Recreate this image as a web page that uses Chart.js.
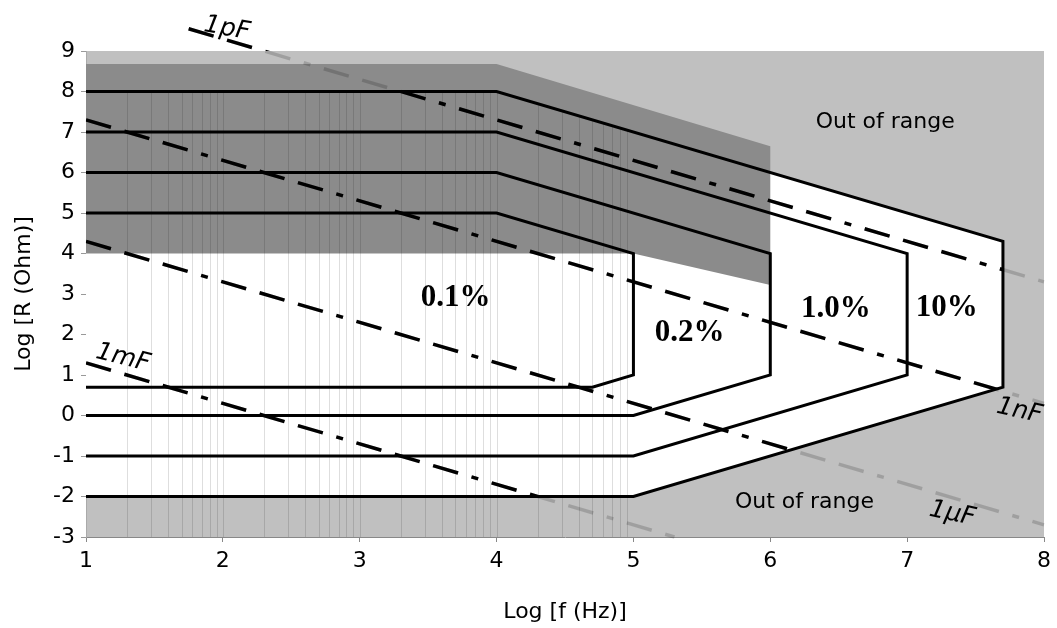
<!doctype html>
<html lang="en">
<head>
<meta charset="utf-8">
<title>Measurement range</title>
<script src="https://cdn.jsdelivr.net/npm/chart.js"></script>
<style>
  html, body { margin: 0; padding: 0; background: #fff; }
  #wrap { width: 1057px; height: 628px; }
</style>
</head>
<body>
<div id="wrap"><canvas id="chart" width="1057" height="628"></canvas></div>
<script>
// x = Log [f (Hz)], y = Log [R (Ohm)]
const xTicks = [1, 2, 3, 4, 5, 6, 7, 8];
const yTicks = [-3, -2, -1, 0, 1, 2, 3, 4, 5, 6, 7, 8, 9];

// accuracy contours (closed on the left by the axis)
const c01X = [1, 4, 5, 5, 4.7, 1];
const c01Y = [5, 5, 4, 1, 0.7, 0.7];
const c02X = [1, 4, 6, 6, 5, 1];
const c02Y = [6, 6, 4, 1, 0, 0];
const c1X = [1, 4, 7, 7, 5, 1];
const c1Y = [7, 7, 4, 1, -1, -1];
const c10X = [1, 4, 7.7, 7.7, 5, 1];
const c10Y = [8, 8, 4.3, 0.7, -2, -2];

// darker band
const darkX = [1, 4, 6, 6, 5, 1];
const darkY = [8.68, 8.68, 6.65, 3.22, 4, 4];

// constant capacitance lines
const capNames = ['1pF', '1nF', '1µF', '1mF'];
const capX = [[1.75, 8], [1, 8], [1, 8], [1, 5.3]];
const capY = [[9.55, 3.3], [7.3, 0.3], [4.3, -2.7], [1.3, -3]];

const pts = (xs, ys) => xs.map((x, i) => ({ x: x, y: ys[i] }));

const datasets = [];
datasets.push({ role: 'white', data: pts(c10X, c10Y), fill: 'shape', backgroundColor: '#ffffff', borderWidth: 0, order: 100 });
datasets.push({ role: 'dark', data: pts(darkX, darkY), fill: 'shape', backgroundColor: '#8b8b8b', borderWidth: 0, order: 90 });

const dash = [26, 14, 26, 14, 26, 14, 7, 14];
for (let i = 0; i < capNames.length; i++) {
    datasets.push({ role: 'capGray', label: capNames[i], data: pts(capX[i], capY[i]), borderColor: 'rgba(0,0,0,0.17)', borderWidth: 3.5, borderDash: dash, clip: false, order: 30 });
    datasets.push({ role: 'capBlack', label: capNames[i], data: pts(capX[i], capY[i]), borderColor: '#000', borderWidth: 3.5, borderDash: dash, clip: false, order: 20 });
}

const contours = [[c01X, c01Y], [c02X, c02Y], [c1X, c1Y], [c10X, c10Y]];
for (const c of contours) {
    datasets.push({ role: 'contour', data: pts(c[0], c[1]), borderColor: '#000', borderWidth: 3, borderJoinStyle: 'miter', order: 10 });
}

// region labels (data coordinates)
const textLabels = [
    { text: '0.1%', x: 3.70, y: 2.90, font: 'bold 31px "Liberation Serif"', rot: 0 },
    { text: '0.2%', x: 5.41, y: 2.04, font: 'bold 31px "Liberation Serif"', rot: 0 },
    { text: '1.0%', x: 6.48, y: 2.63, font: 'bold 31px "Liberation Serif"', rot: 0 },
    { text: '10%', x: 7.29, y: 2.65, font: 'bold 31px "Liberation Serif"', rot: 0 },
    { text: 'Out of range', x: 6.84, y: 7.25, font: '22px "DejaVu Sans"', rot: 0 },
    { text: 'Out of range', x: 6.25, y: -2.14, font: '22px "DejaVu Sans"', rot: 0 },
    { text: '1pF', x: 2.03, y: 9.55, font: 'italic 25px "DejaVu Sans"', rot: 10 },
    { text: '1mF', x: 1.27, y: 1.42, font: 'italic 25px "DejaVu Sans"', rot: 14 },
    { text: '1nF', x: 7.82, y: 0.11, font: 'italic 25px "DejaVu Sans"', rot: 12 },
    { text: '1µF', x: 7.33, y: -2.43, font: 'italic 25px "DejaVu Sans"', rot: 12 }
];

function polyPath(ctx, chart, xs, ys) {
    const sx = chart.scales.x, sy = chart.scales.y;
    xs.forEach((x, i) => {
        const px = sx.getPixelForValue(x), py = sy.getPixelForValue(ys[i]);
        if (i === 0) ctx.moveTo(px, py); else ctx.lineTo(px, py);
    });
    ctx.closePath();
}

const plotPlugin = {
    id: 'plotPlugin',
    beforeDraw(chart) {
        const a = chart.chartArea, ctx = chart.ctx;
        ctx.save();
        ctx.fillStyle = '#fff';
        ctx.fillRect(0, 0, chart.width, chart.height);
        ctx.fillStyle = '#c0c0c0';
        ctx.fillRect(a.left, a.top, a.right - a.left, a.bottom - a.top);
        ctx.restore();
    },
    beforeDatasetDraw(chart, args) {
        const ds = chart.data.datasets[args.index];
        if (ds.role !== 'capBlack') return;
        const ctx = chart.ctx;
        ctx.save();
        ctx.beginPath();
        polyPath(ctx, chart, c10X, c10Y);
        ctx.rect(0, 0, chart.width, chart.chartArea.top);
        ctx.clip();
    },
    afterDatasetDraw(chart, args) {
        const ds = chart.data.datasets[args.index];
        const ctx = chart.ctx, sx = chart.scales.x, sy = chart.scales.y;
        if (ds.role === 'capBlack') { ctx.restore(); return; }
        if (ds.role !== 'dark') return;
        // faint log minor grid, only inside the measurable area and the lower band
        ctx.save();
        ctx.beginPath();
        polyPath(ctx, chart, c10X, c10Y);
        const x1 = sx.getPixelForValue(1), x5 = sx.getPixelForValue(5);
        const ym2 = sy.getPixelForValue(-2), ym3 = sy.getPixelForValue(-3);
        ctx.rect(x1, ym2, x5 - x1, ym3 - ym2);
        ctx.clip();
        ctx.strokeStyle = 'rgba(0,0,0,0.13)';
        ctx.lineWidth = 1;
        const top = sy.getPixelForValue(8), bot = sy.getPixelForValue(-3);
        for (let n = 1; n < 5; n++) {
            for (let k = 1; k <= 9; k++) {
                const v = n + Math.log10(k);
                if (v <= 1) continue;
                const px = Math.round(sx.getPixelForValue(v)) + 0.5;
                ctx.beginPath();
                ctx.moveTo(px, top);
                ctx.lineTo(px, bot);
                ctx.stroke();
            }
        }
        ctx.restore();
    },
    afterDraw(chart) {
        const ctx = chart.ctx, sx = chart.scales.x, sy = chart.scales.y;
        ctx.save();
        ctx.fillStyle = '#000';
        ctx.textAlign = 'center';
        ctx.textBaseline = 'middle';
        for (const l of textLabels) {
            ctx.save();
            ctx.translate(sx.getPixelForValue(l.x), sy.getPixelForValue(l.y));
            ctx.rotate(l.rot * Math.PI / 180);
            ctx.font = l.font;
            ctx.fillText(l.text, 0, 0);
            ctx.restore();
        }
        ctx.restore();
    }
};

const tickFont = { family: 'DejaVu Sans', size: 22 };

new Chart(document.getElementById('chart'), {
    type: 'scatter',
    data: { datasets: datasets },
    options: {
        responsive: false,
        animation: false,
        showLine: true,
        elements: { point: { radius: 0, hoverRadius: 0 }, line: { tension: 0 } },
        layout: { padding: { left: 0, top: 51, right: 10, bottom: 0 } },
        plugins: { legend: { display: false }, tooltip: { enabled: false } },
        events: [],
        scales: {
            x: {
                type: 'linear', min: 1, max: 8, z: 1,
                afterBuildTicks: s => { s.ticks = xTicks.map(v => ({ value: v })); },
                afterFit: s => { s.height = 91; },
                grid: { drawOnChartArea: false, drawTicks: true, tickLength: 5, color: '#888' },
                border: { color: '#888', width: 1 },
                ticks: { font: tickFont, color: '#000', padding: 6, maxRotation: 0 },
                title: { display: true, text: 'Log [f (Hz)]', font: tickFont, color: '#000', padding: { top: 0, bottom: 3 } }
            },
            y: {
                type: 'linear', min: -3, max: 9, z: 1,
                afterBuildTicks: s => { s.ticks = yTicks.map(v => ({ value: v })); },
                afterFit: s => { s.width = 86; },
                grid: { drawOnChartArea: false, drawTicks: true, tickLength: 5, color: '#999' },
                border: { color: '#aaa', width: 1 },
                ticks: { font: tickFont, color: '#000', padding: 6 },
                title: { display: true, text: 'Log [R (Ohm)]', font: tickFont, color: '#000', padding: { top: 11, bottom: 0 } }
            }
        }
    },
    plugins: [plotPlugin]
});
</script>
</body>
</html>
